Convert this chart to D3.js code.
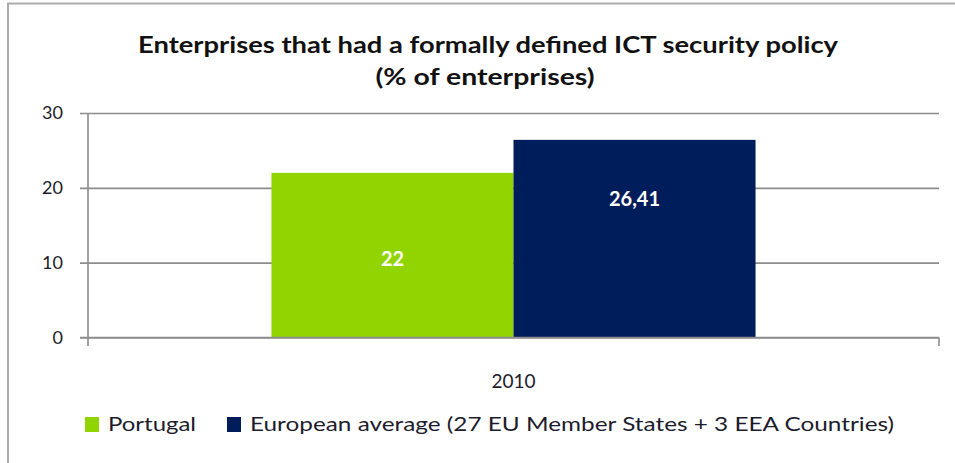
<!DOCTYPE html>
<html>
<head>
<meta charset="utf-8">
<script src="https://cdn.jsdelivr.net/npm/d3@7"></script>
<style>
  html, body { margin: 0; padding: 0; background: #fff; }
  svg { display: block; font-family: Lato, "Open Sans", sans-serif; }
</style>
</head>
<body>
<svg id="chart" width="955" height="463"></svg>
<script>
// Chart data
const categories = ["2010"];
const seriesNames = ["Portugal", "European average (27 EU Member States + 3 EEA Countries)"];
const seriesColors = ["#92d400", "#001d5b"];
const portugalValues = [22];
const europeValues = [26.41];
const valueLabels = [["22"], ["26,41"]];
const yTicks = [0, 10, 20, 30];
const titleLines = ["Enterprises that had a formally defined ICT security policy", "(% of enterprises)"];

const seriesValues = [portugalValues, europeValues];

const svg = d3.select("#chart");
const W = 955, H = 463;
const plot = { left: 88, right: 939, top: 113, bottom: 337.5 };
const textColor = "#1c1c2c";
const axisColor = "#8c8c8c";

// Outer frame (top and left edges)
svg.append("path")
  .attr("d", `M8,${H} V3.5 H${W}`)
  .attr("fill", "none")
  .attr("stroke", "#ababab")
  .attr("stroke-width", 2);

// Title
svg.append("g").selectAll("text")
  .data(titleLines)
  .join("text")
  .attr("x", (d, i) => i === 0 ? 488 : 485)
  .attr("y", (d, i) => 53 + i * 32)
  .attr("text-anchor", "middle")
  .attr("font-weight", "bold")
  .attr("font-size", 23)
  .attr("fill", "#111")
  .attr("textLength", (d, i) => i === 0 ? 700 : 219)
  .attr("lengthAdjust", "spacingAndGlyphs")
  .text(d => d);

// Scales
const x0 = d3.scaleBand().domain(categories).range([plot.left, plot.right]).padding(0);
const x1 = d3.scaleBand().domain(d3.range(seriesNames.length))
  .range([0, x0.bandwidth()]).paddingInner(0).paddingOuter(0.758);
const y = d3.scaleLinear().domain([0, 30]).range([plot.bottom, plot.top]);

// Horizontal gridlines with tick marks
const yAxis = d3.axisLeft(y).tickValues(yTicks)
  .tickSize(-(plot.right - plot.left) - 8).tickPadding(0).tickFormat("");
const gy = svg.append("g").attr("transform", `translate(${plot.left - 8},0)`).call(yAxis);
gy.select(".domain").remove();
gy.selectAll(".tick line")
  .attr("x1", 0)
  .attr("x2", plot.right - plot.left + 8)
  .attr("stroke", axisColor).attr("stroke-width", 1.6);

// Y tick labels
svg.append("g").selectAll("text")
  .data(yTicks)
  .join("text")
  .attr("x", 63)
  .attr("y", d => y(d) + 6)
  .attr("text-anchor", "end")
  .attr("font-size", 18)
  .attr("fill", textColor)
  .text(d => d);

// Vertical value axis line
svg.append("line")
  .attr("x1", plot.left).attr("x2", plot.left)
  .attr("y1", y(30)).attr("y2", plot.bottom + 8.5)
  .attr("stroke", axisColor).attr("stroke-width", 1.6);

// Category axis tick at the right end
svg.append("line")
  .attr("x1", plot.right).attr("x2", plot.right)
  .attr("y1", plot.bottom).attr("y2", plot.bottom + 8.5)
  .attr("stroke", axisColor).attr("stroke-width", 1.6);

// Bars
const barGroups = svg.append("g").selectAll("g")
  .data(categories)
  .join("g")
  .attr("transform", c => `translate(${x0(c)},0)`);

barGroups.selectAll("rect")
  .data((c, ci) => seriesValues.map((vals, si) => ({ si, v: vals[ci] })))
  .join("rect")
  .attr("x", d => x1(d.si))
  .attr("width", x1.bandwidth())
  .attr("y", d => y(d.v))
  .attr("height", d => y(0) - y(d.v))
  .attr("fill", d => seriesColors[d.si]);

// Value labels inside bars
barGroups.selectAll("text")
  .data((c, ci) => seriesValues.map((vals, si) => ({ si, v: vals[ci], label: valueLabels[si][ci] })))
  .join("text")
  .attr("x", d => x1(d.si) + x1.bandwidth() / 2)
  .attr("y", d => d.si === 0 ? (y(d.v) + y(0)) / 2 + 11 : y(d.v) + 66)
  .attr("text-anchor", "middle")
  .attr("font-weight", "bold")
  .attr("font-size", 20)
  .attr("fill", "#fff")
  .text(d => d.label);

// X axis baseline
svg.append("line")
  .attr("x1", plot.left - 8).attr("x2", plot.right)
  .attr("y1", plot.bottom).attr("y2", plot.bottom)
  .attr("stroke", axisColor).attr("stroke-width", 1.6);

// Category label
svg.append("g").selectAll("text")
  .data(categories)
  .join("text")
  .attr("x", c => x0(c) + x0.bandwidth() / 2)
  .attr("y", 388)
  .attr("text-anchor", "middle")
  .attr("font-size", 19)
  .attr("fill", textColor)
  .text(c => c);

// Legend
const legendX = [85, 227];
const legendTextLen = [88, 644];
const legend = svg.append("g").selectAll("g")
  .data(seriesNames)
  .join("g")
  .attr("transform", (d, i) => `translate(${legendX[i]},417)`);
legend.append("rect")
  .attr("width", 14).attr("height", 15)
  .attr("fill", (d, i) => seriesColors[i]);
legend.append("text")
  .attr("x", 23).attr("y", 14)
  .attr("font-size", 19)
  .attr("fill", textColor)
  .attr("textLength", (d, i) => legendTextLen[i])
  .attr("lengthAdjust", "spacingAndGlyphs")
  .text(d => d);
</script>
</body>
</html>
